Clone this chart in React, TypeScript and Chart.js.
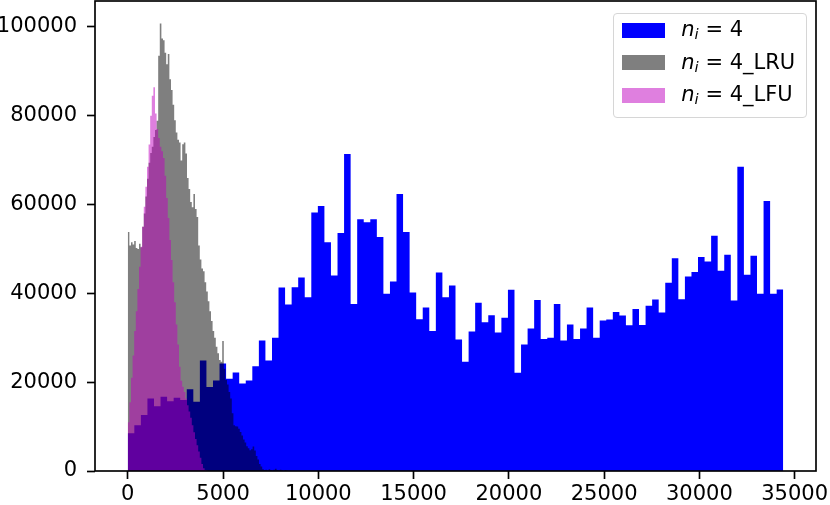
import React, { useEffect, useRef } from 'react';
import { Chart, registerables } from 'chart.js';

Chart.register(...registerables);

// ---- data ----
const blueStart = 0;
const blueBinWidth = 344;
const blueCounts = [
  8500, 10300, 12600, 16300, 14600, 16700, 15700, 16500, 16000, 18400,
  15600, 24900, 18900, 20400, 24200, 20800, 22200, 19700, 20400, 23600,
  29400, 24900, 30000, 41300, 37500, 41400, 43600, 39100, 58200, 59700,
  51500, 44000, 53600, 71400, 37600, 56700, 56000, 56700, 52700, 39900,
  42700, 62400, 53800, 40200, 34200, 36800, 31500, 44700, 39100, 41800,
  29600, 24600, 31400, 37900, 33500, 35100, 31200, 34500, 40800, 22100,
  28500, 32100, 38500, 29700, 30000, 37600, 29400, 33000, 29700, 32100,
  36800, 30000, 33900, 34100, 35800, 35000, 32800, 36500, 32900, 37200,
  38600, 35700, 42400, 47900, 38700, 43800, 44800, 48200, 47200, 53000,
  45100, 48700, 38400, 68500, 44200, 48500, 39900, 60800, 39900, 40900,
];

const grayStart = 0;
const grayBinWidth = 84;
const grayCounts = [
  53800, 50800, 51500, 51000, 51800, 50200, 50000, 51200, 50400, 55000,
  58000, 61800, 65800, 69400, 71600, 73000, 75200, 76800, 78900, 93500,
  100800, 97400, 97000, 94200, 91600, 93900, 88200, 85800, 82500, 79000,
  76200, 74600, 74000, 69900, 73600, 74000, 71500, 66000, 63500, 60600,
  59400, 62400, 59000, 57200, 50800, 47600, 45600, 45000, 42500, 40400,
  38200, 36000, 33800, 31500, 30000, 28000, 26500, 25000, 24600, 29300,
  23000, 20500, 19500, 17800, 16300, 13000, 10300, 10100, 10000, 9500,
  8800, 8000, 7100, 6400, 5600, 5100, 4700, 4900, 5500, 4600,
  3400, 2600, 1600, 1000, 400, 200, 300, 100, 400, 200,
  100, 300, 500, 200, 100, 300, 100, 0, 200, 100,
];

const pinkStart = 0;
const pinkBinWidth = 84;
const pinkCounts = [
  11000, 15500, 21000, 26000, 31500, 36000, 41000, 46000, 50500, 55000,
  59500, 64000, 68500, 73500, 80000, 84500, 86400, 80500, 77000, 75000,
  73000, 72000, 70500, 66500, 61500, 57000, 52000, 47500, 42500, 38000,
  33000, 28500, 23500, 20300, 19000, 17800, 16300, 14800, 13400, 12000,
  10300, 8700, 7200, 5800, 4400, 3000, 1600, 600, 200, 100,
];

const xTicks = [0, 5000, 10000, 15000, 20000, 25000, 30000, 35000];
const yTicks = [0, 20000, 40000, 60000, 80000, 100000];
const xMin = -1720;
const xMax = 36120;
const yMax = 105840;

const seriesNames = ['4', '4_LRU', '4_LFU'];
const seriesColors = ['#0000ff', 'rgba(0,0,0,0.5)', 'rgba(191,0,191,0.5)'];

function toSteps(start: number, width: number, counts: number[]) {
  const pts = counts.map((c, i) => ({ x: start + i * width, y: c }));
  pts.push({ x: start + counts.length * width, y: counts[counts.length - 1] });
  return pts;
}

const FONT = "'DejaVu Sans', 'Liberation Sans', sans-serif";

const framePlugin = {
  id: 'frame',
  afterDatasetsDraw(chart: any) {
    const { ctx, chartArea } = chart;
    const { left, top, right, bottom } = chartArea;
    ctx.save();
    ctx.strokeStyle = '#000';
    ctx.lineWidth = 1.67;
    ctx.strokeRect(left, top, right - left, bottom - top);
    ctx.restore();
  },
};

export default function App() {
  const canvasRef = useRef<HTMLCanvasElement | null>(null);

  useEffect(() => {
    const canvas = canvasRef.current;
    if (!canvas) return;
    const mk = (label: string, start: number, width: number, counts: number[], color: string, order: number) => ({
      label,
      data: toSteps(start, width, counts),
      stepped: 'before' as const,
      fill: 'origin',
      backgroundColor: color,
      borderColor: 'rgba(0,0,0,0)',
      borderWidth: 0,
      pointRadius: 0,
      pointHoverRadius: 0,
      order,
    });
    const chart = new Chart(canvas, {
      type: 'line',
      data: {
        datasets: [
          mk(seriesNames[0], blueStart, blueBinWidth, blueCounts, seriesColors[0], 3),
          mk(seriesNames[1], grayStart, grayBinWidth, grayCounts, seriesColors[1], 2),
          mk(seriesNames[2], pinkStart, pinkBinWidth, pinkCounts, seriesColors[2], 1),
        ] as any,
      },
      options: {
        animation: false,
        responsive: false,
        devicePixelRatio: 1,
        layout: { padding: { left: 0, top: 1, right: 14, bottom: 0 } },
        plugins: {
          legend: { display: false },
          tooltip: { enabled: false },
        },
        scales: {
          x: {
            type: 'linear',
            min: xMin,
            max: xMax,
            afterBuildTicks: (scale: any) => {
              scale.ticks = xTicks.map((v) => ({ value: v }));
            },
            afterFit: (scale: any) => {
              scale.height = 34;
              scale.paddingLeft = 0;
              scale.paddingRight = 0;
              scale.paddingTop = 0;
              scale.paddingBottom = 0;
            },
            ticks: {
              autoSkip: false,
              maxRotation: 0,
              padding: 3,
              color: '#000',
              font: { family: FONT, size: 21 },
              callback: (v: any) => String(v),
            },
            grid: {
              display: true,
              drawOnChartArea: false,
              drawTicks: true,
              tickLength: 8,
              tickColor: '#000',
              tickWidth: 1.67,
            },
            border: { display: false },
          },
          y: {
            type: 'linear',
            min: 0,
            max: yMax,
            afterBuildTicks: (scale: any) => {
              scale.ticks = yTicks.map((v) => ({ value: v }));
            },
            afterFit: (scale: any) => {
              scale.width = 95;
              scale.paddingLeft = 0;
              scale.paddingRight = 0;
              scale.paddingTop = 0;
              scale.paddingBottom = 0;
            },
            ticks: {
              padding: 10,
              color: '#000',
              font: { family: FONT, size: 21 },
              callback: (v: any) => String(v),
            },
            grid: {
              display: true,
              drawOnChartArea: false,
              drawTicks: true,
              tickLength: 8,
              tickColor: '#000',
              tickWidth: 1.67,
            },
            border: { display: false },
          },
        },
      } as any,
      plugins: [framePlugin],
    });
    return () => chart.destroy();
  }, []);

  const rowTops = [5, 37.5, 70];
  const patchTops = [9.3, 41.3, 73.8];

  return (
    <div style={{ position: 'absolute', left: 0, top: 0, width: 830, height: 505, background: '#fff' }}>
      <canvas ref={canvasRef} width={830} height={505} style={{ width: 830, height: 505, display: 'block' }} />
      <div
        style={{
          position: 'absolute',
          left: 613,
          top: 13,
          width: 194,
          height: 105,
          boxSizing: 'border-box',
          border: '1.67px solid rgb(214,214,214)',
          borderRadius: 4,
          background: 'rgba(255,255,255,0.8)',
          fontFamily: FONT,
          fontSize: 21,
          color: '#000',
        }}
      >
        {seriesNames.map((name, i) => (
          <React.Fragment key={name}>
            <div
              style={{
                position: 'absolute',
                left: 8.3,
                top: patchTops[i],
                width: 43,
                height: 15,
                background: seriesColors[i],
              }}
            />
            <div
              style={{
                position: 'absolute',
                left: 67.3,
                top: rowTops[i],
                lineHeight: '21px',
                whiteSpace: 'pre',
              }}
            >
              <span style={{ fontStyle: 'italic' }}>n</span>
              <span style={{ fontStyle: 'italic', fontSize: 14.7, position: 'relative', top: 3 }}>i</span>
              <span>{' = ' + name}</span>
            </div>
          </React.Fragment>
        ))}
      </div>
    </div>
  );
}
